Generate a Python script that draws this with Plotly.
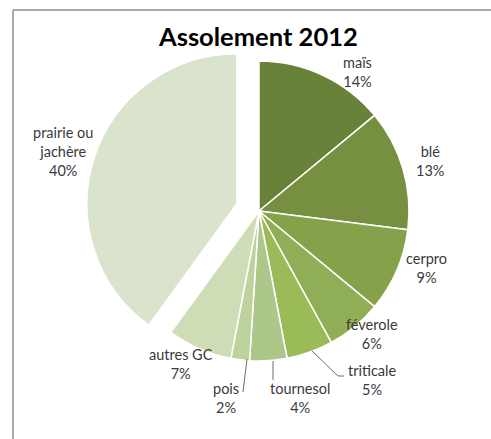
import plotly.graph_objects as go

W, H = 491, 439

categories = ["maïs", "blé", "cerpro", "féverole", "triticale", "tournesol", "pois", "autres GC", "prairie ou jachère"]
values = [14, 13, 9, 6, 5, 4, 2, 7, 40]
colors = ["#69823A", "#778F40", "#85A24A", "#90AE55", "#9BBB59", "#ADC78A", "#BED29E", "#CEDDB6", "#DAE4CC"]
pulls = [0, 0, 0, 0, 0, 0, 0, 0, 0.155]
label_text = ["maïs<br>14%", "blé<br>13%", "cerpro<br>9%", "féverole<br>6%", "triticale<br>5%",
              "tournesol<br>4%", "pois<br>2%", "autres GC<br>7%", "prairie ou<br>jachère<br>40%"]

# label centres in pixels (layout)
label_pos = [(357, 72), (430, 161), (426, 268), (372, 334), (372, 380),
             (300, 398), (226, 398), (181, 364), (63, 151)]
# leader lines in pixels (layout)
leaders = [
    [(312, 351), (338, 376), (344, 376)],
    [(273, 361), (273, 380)],
    [(247, 359), (243, 392)],
]

def px(x):
    return x / W

def py(y):
    return 1 - y / H

cx, cy, r = 259, 211, 150
box = r * (2 + 2 * max(pulls))

fig = go.Figure(go.Pie(
    labels=categories,
    values=values,
    sort=False,
    direction="clockwise",
    rotation=0,
    pull=pulls,
    marker=dict(colors=colors, line=dict(color="white", width=1.5)),
    textinfo="none",
    showlegend=False,
    domain=dict(x=[px(cx - box / 2), px(cx + box / 2)], y=[py(cy + box / 2), py(cy - box / 2)]),
))

annotations = [dict(text="<b>Assolement 2012</b>", x=px(258), y=py(36), xref="paper", yref="paper",
                    showarrow=False, font=dict(family="Lato", size=25.5, color="#000000"),
                    xanchor="center", yanchor="middle")]
for t, (lx, ly) in zip(label_text, label_pos):
    annotations.append(dict(text=t, x=px(lx), y=py(ly), xref="paper", yref="paper", showarrow=False,
                            font=dict(family="Lato", size=14.5, color="#3A3A3A"),
                            xanchor="center", yanchor="middle", align="center"))

shapes = [
    dict(type="line", xref="paper", yref="paper", x0=px(13), y0=py(10), x1=px(13), y1=-0.05,
         line=dict(color="#8C8C8C", width=1.5)),
    dict(type="line", xref="paper", yref="paper", x0=px(13), y0=py(10), x1=1.05, y1=py(10),
         line=dict(color="#8C8C8C", width=1.5)),
]
for pts in leaders:
    path = "M " + " L ".join(f"{px(a)},{py(b)}" for a, b in pts)
    shapes.append(dict(type="path", xref="paper", yref="paper", path=path,
                       line=dict(color="#6E6E6E", width=1)))

fig.update_layout(
    width=W, height=H,
    margin=dict(l=0, r=0, t=0, b=0),
    paper_bgcolor="white",
    plot_bgcolor="white",
    annotations=annotations,
    shapes=shapes,
)

fig.write_html("out.html")
